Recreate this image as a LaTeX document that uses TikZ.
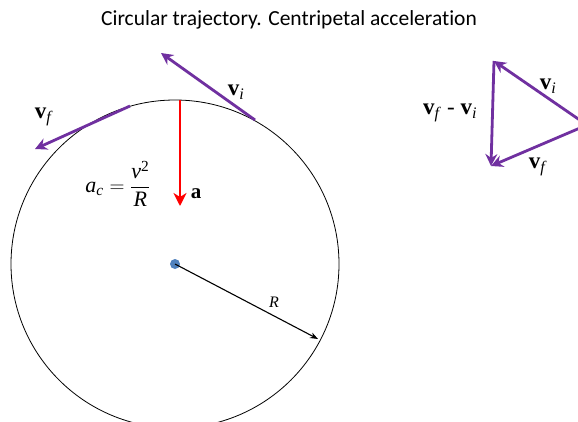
\documentclass[tikz,border=0pt]{standalone}
\usepackage{amsmath}
\usepackage{fontspec}
\setmainfont{Liberation Serif}
\newfontfamily\titlefont[Ligatures=NoCommon]{Carlito}
\usetikzlibrary{arrows.meta}
\definecolor{vpurple}{RGB}{112,48,160}
\definecolor{dotblue}{RGB}{79,129,189}
\newcommand{\bvec}[1]{\textbf{v}\textsubscript{\textit{#1}}}
\tikzset{
  vec/.style={vpurple, line width=2.8pt, -{Stealth[length=12pt,width=12pt,inset=4pt]}},
  acc/.style={red, line width=2.7pt, -{Stealth[length=13pt,width=13pt,inset=4pt]}},
  rad/.style={black, line width=1.1pt, -{Stealth[length=8pt,width=6pt]}},
  lbl/.style={inner sep=0pt, font=\fontsize{23}{25}\selectfont},
}
\begin{document}
\begin{tikzpicture}[x=1pt,y=-1pt]
\clip (0,0) rectangle (578,421);
\fill[white] (0,0) rectangle (578,421);
\node[font=\titlefont\fontsize{21.5}{24}\selectfont] (title) at (289,20) {Circular trajectory. Centripetal acceleration};
% circle
\coordinate (c) at (175,264);
\draw[line width=0.8pt] (c) circle (164);
\node[circle, fill=dotblue, minimum size=10pt, inner sep=0pt] (dot) at (c) {};
% radius
\coordinate (rend) at (318,339);
\draw[rad] (c) -- (rend);
\node[inner sep=0pt, font=\fontsize{16}{18}\selectfont] (rl) at (274,302) {\textit{R}};
% velocity vectors on circle
\coordinate (vit) at (255,120);
\coordinate (vih) at (161,53);
\draw[vec] (vit) -- (vih);
\node[lbl] (vil) at (236,92) {\bvec{i}};
\coordinate (vft) at (130,106);
\coordinate (vfh) at (35,149);
\draw[vec] (vft) -- (vfh);
\node[lbl] (vfl) at (44,117) {\bvec{f}};
% acceleration
\coordinate (at) at (180,100);
\coordinate (ah) at (180,206);
\draw[acc] (at) -- (ah);
\node[inner sep=0pt, font=\fontsize{21}{23}\selectfont] (al) at (196,194) {\textbf{a}};
\node[inner sep=0pt, font=\fontsize{22}{26}\selectfont] (form) at (118,184) {$\displaystyle \textit{a}_{\textit{c}}=\frac{\textit{v}^{\textrm{2}}}{\textit{R}}$};
% triangle
\coordinate (tr) at (587,125);
\coordinate (tt) at (494,61);
\coordinate (tb) at (491,166);
\draw[vec] (tr) -- (tt);
\draw[vec] (tr) -- (tb);
\draw[vec] (tt) -- (tb);
\node[lbl] (til) at (548,86) {\bvec{i}};
\node[lbl] (tfl) at (538,167) {\bvec{f}};
\node[lbl] (tdl) at (450,113) {\bvec{f} - \bvec{i}};
\end{tikzpicture}
\end{document}
